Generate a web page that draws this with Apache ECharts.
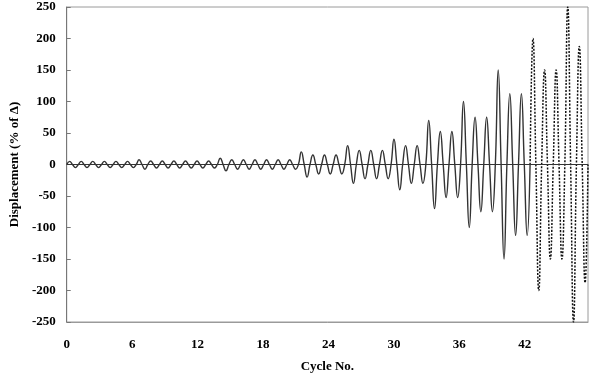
<!DOCTYPE html>
<html>
<head>
<meta charset="utf-8">
<script src="https://cdn.jsdelivr.net/npm/echarts@6/dist/echarts.min.js"></script>
<style>
html,body{margin:0;padding:0;background:#fff;}
#chart{width:591px;height:378px;}
</style>
</head>
<body>
<div id="chart"></div>
<script>
// Peak displacement (% of Δ) of each cycle
const cycleAmplitudes = [
  5, 5, 5, 5, 5, 5,
  7.5, 5.6, 5.6, 5.6, 5.6, 5.6, 5.6,
  10, 7.5, 7.5, 7.5, 7.5, 7.5, 7.5,
  20, 15, 15, 15,
  30, 22.5, 22.5, 22.5,
  40, 30, 30,
  70, 52.5, 52.5,
  100, 75, 75,
  150, 112.5, 112.5,
  200, 150, 150,
  250, 187.5
];
const dottedFromCycle = 40;
const xTickLabels = [0, 6, 12, 18, 24, 30, 36, 42];
const xLabelAxisMax = 47.8;   // extent of the labelled "Cycle No." axis in the picture
const yTickLabels = [-250, -200, -150, -100, -50, 0, 50, 100, 150, 200, 250];

function cyclePoints(from, to) {
  const pts = [];
  for (let i = from; i < to; i++) {
    const a = cycleAmplitudes[i];
    pts.push([i, 0], [i + 0.25, a], [i + 0.5, 0], [i + 0.75, -a]);
  }
  pts.push([to, 0]);
  return pts;
}
const solidData = cyclePoints(0, dottedFromCycle);
const dottedData = cyclePoints(dottedFromCycle, cycleAmplitudes.length);

const font = 'Liberation Serif, Times New Roman, serif';
const chart = echarts.init(document.getElementById('chart'), null, {renderer: 'canvas'});
chart.setOption({
  animation: false,
  backgroundColor: '#fff',
  grid: {left: 59, right: 3, top: 7, bottom: 52, show: true, borderColor: '#9a9a9a', borderWidth: 1},
  xAxis: [{
    type: 'value', min: 0, max: xLabelAxisMax, interval: 6, position: 'bottom',
    name: 'Cycle No.', nameLocation: 'middle', nameGap: 38,
    nameTextStyle: {fontFamily: font, fontWeight: 'bold', fontSize: 13, color: '#000'},
    axisLine: {show: true, onZero: false, lineStyle: {color: '#9a9a9a', width: 1}},
    axisTick: {show: false},
    splitLine: {show: false},
    axisLabel: {
      fontFamily: font, fontWeight: 'bold', fontSize: 13, color: '#000', margin: 16,
      showMaxLabel: false,
      formatter: v => xTickLabels.includes(v) ? String(v) : ''
    }
  }, {
    type: 'value', min: 0, max: cycleAmplitudes.length, show: false, position: 'bottom'
  }],
  yAxis: {
    type: 'value', min: -250, max: 250, interval: 50,
    name: 'Displacement (% of Δ)', nameLocation: 'middle', nameGap: 45,
    nameTextStyle: {fontFamily: font, fontWeight: 'bold', fontSize: 13, color: '#000'},
    axisLine: {show: true, lineStyle: {color: '#777', width: 1}},
    axisTick: {show: true, inside: true, length: 4, lineStyle: {color: '#777'}},
    splitLine: {show: false},
    axisLabel: {
      fontFamily: font, fontWeight: 'bold', fontSize: 13, color: '#000', margin: 11,
      formatter: v => yTickLabels.includes(v) ? String(v) : ''
    }
  },
  series: [
    {
      type: 'line', xAxisIndex: 1, data: solidData, smooth: 0.5, showSymbol: false, symbol: 'none',
      lineStyle: {color: '#333', width: 1.4},
      markLine: {
        silent: true, symbol: 'none', label: {show: false},
        lineStyle: {color: '#333', width: 1, type: 'solid'},
        data: [{yAxis: 0}]
      },
      z: 3
    },
    {
      type: 'line', xAxisIndex: 1, data: dottedData, smooth: 0.5, showSymbol: false, symbol: 'none',
      lineStyle: {color: '#111', width: 1.5, type: [2, 1.5]},
      z: 3
    }
  ]
});
</script>
</body>
</html>
